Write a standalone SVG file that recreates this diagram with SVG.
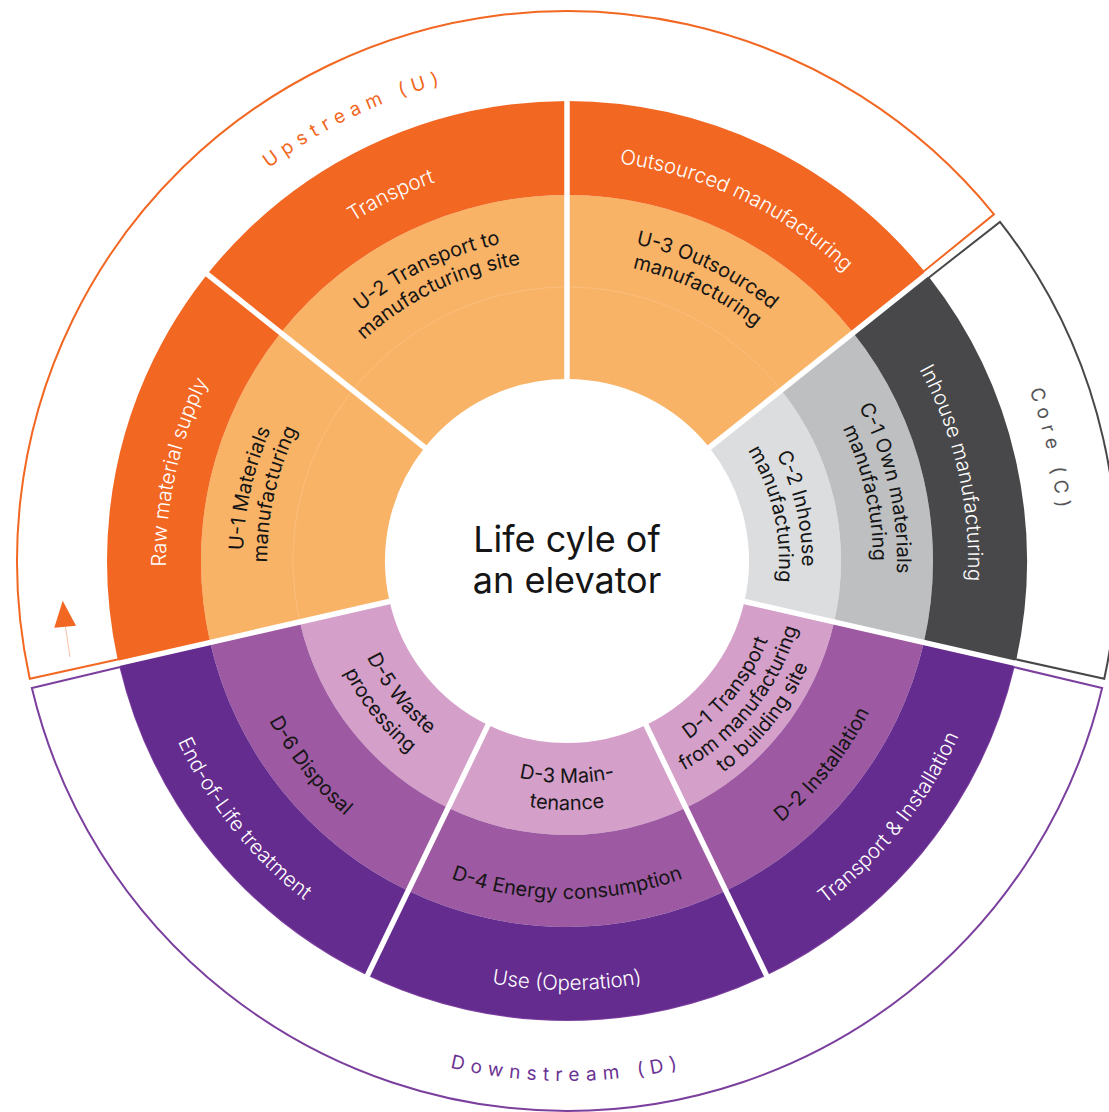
<svg xmlns="http://www.w3.org/2000/svg" width="1109" height="1112" viewBox="0 0 1109 1112">
<style>
text{font-family:Inter,"Liberation Sans",Arial,sans-serif;text-anchor:middle}
.lbl{font-size:20px;fill:#151515}
.band{font-size:20.5px;fill:#fff;font-weight:300}
.grp{font-size:19px;letter-spacing:6.4px}
.title{font-size:36px;fill:#151515}
.div line{stroke:#fff;stroke-width:5.5}
.or1{fill:#F26722}.or2{fill:#F9B367}
.gr1{fill:#48484A}.gr2{fill:#BEBFC1}.gr3{fill:#DCDDDF}
.pu1{fill:#642C8F}.pu2{fill:#9D59A1}.pu3{fill:#D49FC9}
.frame{fill:#fff;stroke-width:2}
.seam{fill:none;stroke:#FBBF7E;stroke-width:0.8}
</style>
<defs>
  <!-- ring cells, one seventh of the circle, centred on the +x axis -->
  <path id="sA" d="M163.98,-78.97 L246.87,-118.88 A274,274 0 0 1 246.87,118.88 L163.98,78.97 A182,182 0 0 0 163.98,-78.97Z"/>
  <path id="sB" d="M246.87,-118.88 L329.76,-158.80 A366,366 0 0 1 329.76,158.80 L246.87,118.88 A274,274 0 0 0 246.87,-118.88Z"/>
  <path id="sC" d="M329.76,-158.80 L413.55,-199.15 A459,459 0 0 1 413.55,199.15 L329.76,158.80 A366,366 0 0 0 329.76,-158.80Z"/>
  <path id="sAB" d="M163.98,-78.97 L329.76,-158.80 A366,366 0 0 1 329.76,158.80 L163.98,78.97 A182,182 0 0 0 163.98,-78.97Z"/>
  <path id="seamArc" d="M246.87,-118.88 A274,274 0 0 1 246.87,118.88"/>
  <!-- outer frames: three sevenths and one seventh -->
  <path id="frame3" d="M106.04,-446.58 L127.06,-535.12 A550,550 0 0 1 127.06,535.12 L106.04,446.58 A459,459 0 0 0 106.04,-446.58Z"/>
  <path id="frame1" d="M415.27,-195.53 L497.60,-234.30 A550,550 0 0 1 497.60,234.30 L415.27,195.53 A459,459 0 0 0 415.27,-195.53Z"/>
  <!-- text baselines: upper arcs run clockwise over the top -->
  <path id="u212" d="M-149.91,-149.91 A212,212 0 0 1 149.91,-149.91"/>
  <path id="u235" d="M-166.17,-166.17 A235,235 0 0 1 166.17,-166.17"/>
  <path id="u300" d="M-212.13,-212.13 A300,300 0 0 1 212.13,-212.13"/>
  <path id="u306" d="M-216.38,-216.38 A306,306 0 0 1 216.38,-216.38"/>
  <path id="u324" d="M-229.10,-229.10 A324,324 0 0 1 229.10,-229.10"/>
  <path id="u330" d="M-233.35,-233.35 A330,330 0 0 1 233.35,-233.35"/>
  <path id="u401" d="M-283.55,-283.55 A401,401 0 0 1 283.55,-283.55"/>
  <path id="u493" d="M-348.60,-348.60 A493,493 0 0 1 348.60,-348.60"/>
  <!-- lower arcs run anticlockwise under the bottom -->
  <path id="b216" d="M-152.74,152.74 A216,216 0 0 0 152.74,152.74"/>
  <path id="b222" d="M-156.98,156.98 A222,222 0 0 0 156.98,156.98"/>
  <path id="b240" d="M-169.71,169.71 A240,240 0 0 0 169.71,169.71"/>
  <path id="b249" d="M-176.07,176.07 A249,249 0 0 0 176.07,176.07"/>
  <path id="b263" d="M-185.97,185.97 A263,263 0 0 0 185.97,185.97"/>
  <path id="b338" d="M-239.00,239.00 A338,338 0 0 0 239.00,239.00"/>
  <path id="b429" d="M-303.35,303.35 A429,429 0 0 0 303.35,303.35"/>
  <path id="b520" d="M-367.70,367.70 A520,520 0 0 0 367.70,367.70"/>
</defs>
<rect width="1109" height="1112" fill="#fff"/>
<g transform="translate(567,561)">
  <!-- stage frames with their titles -->
  <g id="upstream">
    <use href="#frame3" class="frame" stroke="#F26722" transform="rotate(244.286)"/>
    <text class="grp" fill="#F26722" transform="rotate(-25.714)"><textPath href="#u493" startOffset="50%">Upstream (U)</textPath></text>
  </g>
  <g id="core">
    <use href="#frame1" class="frame" stroke="#48484A" transform="rotate(347.143)"/>
    <text class="grp" fill="#555558" transform="rotate(77.143)"><textPath href="#u493" startOffset="50%">Core (C)</textPath></text>
  </g>
  <g id="downstream">
    <use href="#frame3" class="frame" stroke="#7B3F9E" transform="rotate(90)"/>
    <text class="grp" fill="#6B3393"><textPath href="#b520" startOffset="50%">Downstream (D)</textPath></text>
  </g>

  <!-- U-1 -->
  <g id="u1-materials">
    <use href="#sAB" class="or2" transform="rotate(192.857)"/>
    <use href="#seamArc" class="seam" transform="rotate(192.857)"/>
    <text class="lbl" transform="rotate(-77.143)"><textPath href="#u324" startOffset="50%">U-1 Materials</textPath></text>
    <text class="lbl" transform="rotate(-77.143)"><textPath href="#u300" startOffset="50%">manufacturing</textPath></text>
  </g>
  <g id="raw-material-supply">
    <use href="#sC" class="or1" transform="rotate(192.857)"/>
    <text class="band" transform="rotate(-77.143)"><textPath href="#u401" startOffset="50%">Raw material supply</textPath></text>
  </g>

  <!-- U-2 -->
  <g id="u2-transport">
    <use href="#sAB" class="or2" transform="rotate(244.286)"/>
    <use href="#seamArc" class="seam" transform="rotate(244.286)"/>
    <text class="lbl" transform="rotate(-25.714)"><textPath href="#u324" startOffset="50%">U-2 Transport to</textPath></text>
    <text class="lbl" transform="rotate(-25.714)"><textPath href="#u300" startOffset="50%">manufacturing site</textPath></text>
  </g>
  <g id="transport">
    <use href="#sC" class="or1" transform="rotate(244.286)"/>
    <text class="band" transform="rotate(-25.714)"><textPath href="#u401" startOffset="50%">Transport</textPath></text>
  </g>

  <!-- U-3 -->
  <g id="u3-outsourced">
    <use href="#sAB" class="or2" transform="rotate(295.714)"/>
    <use href="#seamArc" class="seam" transform="rotate(295.714)"/>
    <text class="lbl" transform="rotate(25.714)"><textPath href="#u324" startOffset="50%">U-3 Outsourced</textPath></text>
    <text class="lbl" transform="rotate(25.714)"><textPath href="#u300" startOffset="50%">manufacturing</textPath></text>
  </g>
  <g id="outsourced-manufacturing">
    <use href="#sC" class="or1" transform="rotate(295.714)"/>
    <text class="band" transform="rotate(25.714)"><textPath href="#u401" startOffset="50%">Outsourced manufacturing</textPath></text>
  </g>

  <!-- Core -->
  <g id="c2-inhouse">
    <use href="#sA" class="gr3" transform="rotate(347.143)"/>
    <text class="lbl" transform="rotate(77.143)"><textPath href="#u235" startOffset="50%">C-2 Inhouse</textPath></text>
    <text class="lbl" transform="rotate(77.143)"><textPath href="#u212" startOffset="50%">manufacturing</textPath></text>
  </g>
  <g id="c1-own-materials">
    <use href="#sB" class="gr2" transform="rotate(347.143)"/>
    <text class="lbl" transform="rotate(77.143)"><textPath href="#u330" startOffset="50%">C-1 Own materials</textPath></text>
    <text class="lbl" transform="rotate(77.143)"><textPath href="#u306" startOffset="50%">manufacturing</textPath></text>
  </g>
  <g id="inhouse-manufacturing">
    <use href="#sC" class="gr1" transform="rotate(347.143)"/>
    <text class="band" transform="rotate(77.143)"><textPath href="#u401" startOffset="50%">Inhouse manufacturing</textPath></text>
  </g>

  <!-- D-1 / D-2 -->
  <g id="d1-transport">
    <use href="#sA" class="pu3" transform="rotate(38.571)"/>
    <text class="lbl" transform="rotate(-51.429)"><textPath href="#b216" startOffset="50%">D-1 Transport</textPath></text>
    <text class="lbl" transform="rotate(-51.429)"><textPath href="#b240" startOffset="50%">from manufacturing</textPath></text>
    <text class="lbl" transform="rotate(-51.429)"><textPath href="#b263" startOffset="50%">to building site</textPath></text>
  </g>
  <g id="d2-installation">
    <use href="#sB" class="pu2" transform="rotate(38.571)"/>
    <text class="lbl" transform="rotate(-51.429)"><textPath href="#b338" startOffset="50%">D-2 Installation</textPath></text>
  </g>
  <g id="transport-installation">
    <use href="#sC" class="pu1" transform="rotate(38.571)"/>
    <text class="band" transform="rotate(-51.429)"><textPath href="#b429" startOffset="50%">Transport &amp; Installation</textPath></text>
  </g>

  <!-- D-3 / D-4 -->
  <g id="d3-maintenance">
    <use href="#sA" class="pu3" transform="rotate(90)"/>
    <text class="lbl"><textPath href="#b222" startOffset="50%">D-3 Main-</textPath></text>
    <text class="lbl"><textPath href="#b249" startOffset="50%">tenance</textPath></text>
  </g>
  <g id="d4-energy">
    <use href="#sB" class="pu2" transform="rotate(90)"/>
    <text class="lbl"><textPath href="#b338" startOffset="50%">D-4 Energy consumption</textPath></text>
  </g>
  <g id="use-operation">
    <use href="#sC" class="pu1" transform="rotate(90)"/>
    <text class="band"><textPath href="#b429" startOffset="50%">Use (Operation)</textPath></text>
  </g>

  <!-- D-5 / D-6 -->
  <g id="d5-waste">
    <use href="#sA" class="pu3" transform="rotate(141.429)"/>
    <text class="lbl" transform="rotate(51.429)"><textPath href="#b222" startOffset="50%">D-5 Waste</textPath></text>
    <text class="lbl" transform="rotate(51.429)"><textPath href="#b249" startOffset="50%">processing</textPath></text>
  </g>
  <g id="d6-disposal">
    <use href="#sB" class="pu2" transform="rotate(141.429)"/>
    <text class="lbl" transform="rotate(51.429)"><textPath href="#b338" startOffset="50%">D-6 Disposal</textPath></text>
  </g>
  <g id="end-of-life">
    <use href="#sC" class="pu1" transform="rotate(141.429)"/>
    <text class="band" transform="rotate(51.429)"><textPath href="#b429" startOffset="50%">End-of-Life treatment</textPath></text>
  </g>

  <!-- white separators between the sevenths -->
  <g id="dividers" class="div">
    <line x1="180" y1="0" x2="461" y2="0" transform="rotate(12.857)"/>
    <line x1="180" y1="0" x2="461" y2="0" transform="rotate(64.286)"/>
    <line x1="180" y1="0" x2="461" y2="0" transform="rotate(115.714)"/>
    <line x1="180" y1="0" x2="461" y2="0" transform="rotate(167.143)"/>
    <line x1="180" y1="0" x2="461" y2="0" transform="rotate(218.571)"/>
    <line x1="180" y1="0" x2="461" y2="0" transform="rotate(270)"/>
    <line x1="180" y1="0" x2="461" y2="0" transform="rotate(321.429)"/>
  </g>

  <g id="centre">
    <text class="title" x="0" y="-9">Life cyle of</text>
    <text class="title" x="0" y="32">an elevator</text>
  </g>
</g>

<!-- direction arrow in the upstream frame -->
<g id="direction">
  <line x1="65.5" y1="627" x2="70" y2="657" stroke="#F7BFA3" stroke-width="1"/>
  <polygon points="62.7,600.7 54.3,627.7 76,625.7" fill="#F26722"/>
</g>
</svg>
